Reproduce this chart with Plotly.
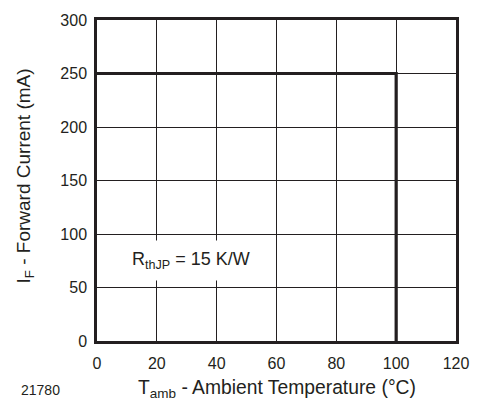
import plotly.graph_objects as go

# Data
temp_c = [0, 100, 100]
current_ma = [250, 250, 0]
x_ticks = [0, 20, 40, 60, 80, 100, 120]
y_ticks = [0, 50, 100, 150, 200, 250, 300]

FONT = "Liberation Sans, Arial, sans-serif"
INK = "#231f20"

L, R, T, B = 97, 458, 16, 341
PW, PH = R - L, B - T


def px(x):
    return (x - L) / PW


def py(y):
    return (B - y) / PH


fig = go.Figure()
fig.add_trace(go.Scatter(x=temp_c, y=current_ma, mode="lines",
                         line=dict(color=INK, width=3.2),
                         showlegend=False, hoverinfo="skip"))

fig.add_annotation(x=31.5, y=75.5, xref="x", yref="y",
                   text="R<sub>thJP</sub> = 15 K/W", showarrow=False,
                   font=dict(family=FONT, size=18, color=INK),
                   bgcolor="white", borderpad=8)

fig.add_annotation(x=px(40), y=py(391), xref="paper", yref="paper",
                   text="21780", showarrow=False, xanchor="center", yanchor="middle",
                   font=dict(family=FONT, size=14, color=INK))

fig.add_annotation(x=px(278), y=py(390), xref="paper", yref="paper",
                   text="T<sub>amb</sub> - Ambient Temperature (°C)", showarrow=False,
                   xanchor="center", yanchor="middle",
                   font=dict(family=FONT, size=19.3, color=INK))

fig.add_annotation(x=px(25), y=py(174), xref="paper", yref="paper",
                   text="I<sub>F</sub> - Forward Current (mA)", showarrow=False,
                   xanchor="center", yanchor="middle", textangle=-90,
                   font=dict(family=FONT, size=19, color=INK))

fig.update_layout(
    width=481, height=405,
    margin=dict(l=L, r=481 - R, t=T, b=405 - B),
    paper_bgcolor="white", plot_bgcolor="white",
    font=dict(family=FONT, size=16, color=INK),
    xaxis=dict(range=[0, 120], tickvals=x_ticks, showgrid=True,
               gridcolor=INK, gridwidth=1, zeroline=False,
               showline=True, mirror=True, linecolor=INK, linewidth=2.5,
               ticks="", ticklen=0, ticklabelstandoff=6),
    yaxis=dict(range=[0, 300], tickvals=y_ticks, showgrid=True,
               gridcolor=INK, gridwidth=1, zeroline=False,
               showline=True, mirror=True, linecolor=INK, linewidth=2.5,
               ticks="", ticklen=0, ticklabelstandoff=4),
)

fig.write_html("out.html", config={"displayModeBar": False},
               post_script="document.body.style.margin='0';")
